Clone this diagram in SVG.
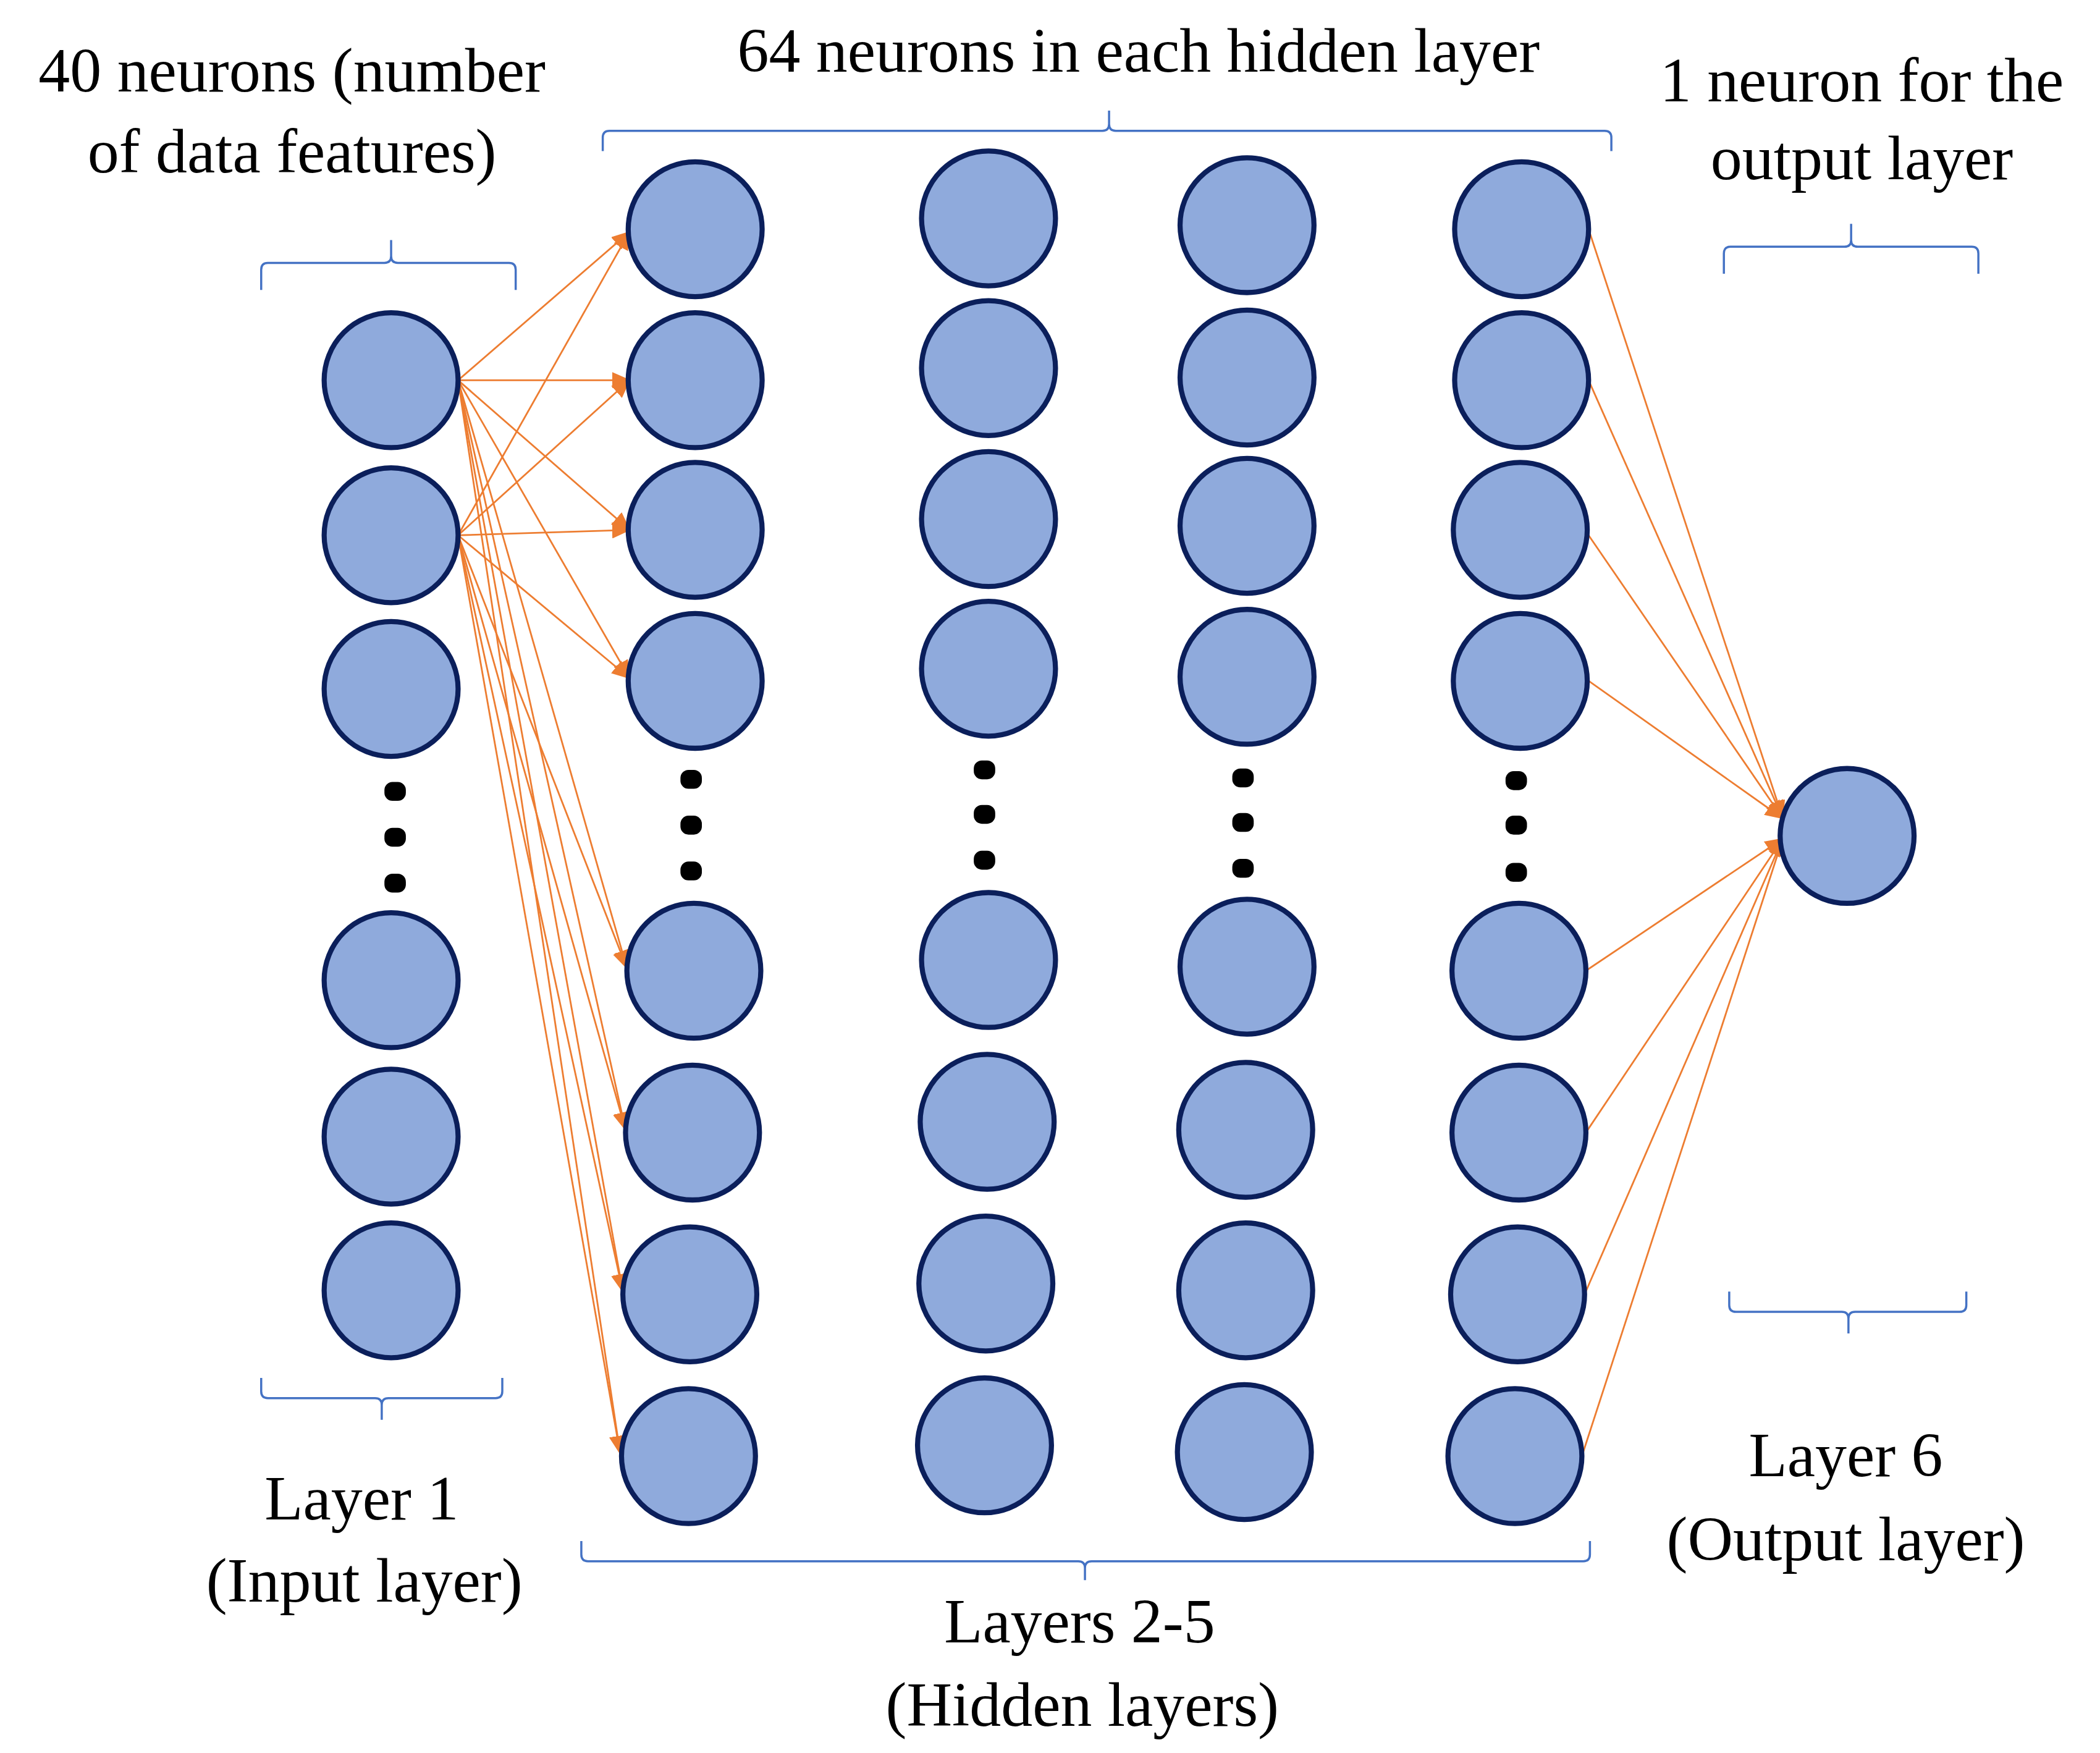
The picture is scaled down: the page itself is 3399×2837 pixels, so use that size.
<svg xmlns="http://www.w3.org/2000/svg" width="3399" height="2837" viewBox="0 0 3399 2837">
<style>
.n{fill:#8FAADC;stroke:#0B1F5B;stroke-width:3.8}
.c{stroke:#ED7D31;stroke-width:1.3;fill:none;marker-end:url(#ah)}
.b{stroke:#4472C4;stroke-width:1.6;fill:none}
.d{fill:#000}
.t{font-family:"Liberation Serif","Times New Roman",serif;font-size:47px;fill:#000;text-anchor:middle}
</style>
<defs>
<marker id="ah" markerUnits="userSpaceOnUse" markerWidth="14" markerHeight="12" refX="13" refY="6" orient="auto"><path d="M0,0 L14,6 L0,12 z" fill="#ED7D31"/></marker>
</defs>
<rect width="3399" height="2837" fill="#fff"/>
<g transform="scale(2.168,2.182)">
<g id="connectors">
<line class="c" x1="342" y1="282" x2="470" y2="172"/>
<line class="c" x1="342" y1="282" x2="470" y2="282"/>
<line class="c" x1="342" y1="282" x2="470" y2="393"/>
<line class="c" x1="342" y1="282" x2="470" y2="503"/>
<line class="c" x1="342" y1="282" x2="468" y2="718"/>
<line class="c" x1="342" y1="282" x2="467" y2="838"/>
<line class="c" x1="342" y1="282" x2="465" y2="958"/>
<line class="c" x1="342" y1="282" x2="463" y2="1078"/>
<line class="c" x1="342" y1="397" x2="470" y2="172"/>
<line class="c" x1="342" y1="397" x2="470" y2="282"/>
<line class="c" x1="342" y1="397" x2="470" y2="393"/>
<line class="c" x1="342" y1="397" x2="470" y2="503"/>
<line class="c" x1="342" y1="397" x2="468" y2="718"/>
<line class="c" x1="342" y1="397" x2="467" y2="838"/>
<line class="c" x1="342" y1="397" x2="465" y2="958"/>
<line class="c" x1="342" y1="397" x2="463" y2="1078"/>
<line class="c" x1="1186" y1="170" x2="1331" y2="607"/>
<line class="c" x1="1186" y1="282" x2="1331" y2="607"/>
<line class="c" x1="1186" y1="397" x2="1331" y2="607"/>
<line class="c" x1="1186" y1="505" x2="1331" y2="607"/>
<line class="c" x1="1184" y1="720" x2="1331" y2="622"/>
<line class="c" x1="1184" y1="840" x2="1331" y2="622"/>
<line class="c" x1="1183" y1="960" x2="1331" y2="622"/>
<line class="c" x1="1181" y1="1080" x2="1331" y2="622"/>
</g>
<g id="input-layer">
<circle class="n" cx="292" cy="282" r="50"/><circle class="n" cx="292" cy="397" r="50"/><circle class="n" cx="292" cy="511" r="50"/>
<circle class="n" cx="292" cy="727" r="50"/><circle class="n" cx="292" cy="843" r="50"/><circle class="n" cx="292" cy="957" r="50"/>
<rect class="d" x="287" y="580" width="16" height="14" rx="6"/><rect class="d" x="287" y="614" width="16" height="14" rx="6"/><rect class="d" x="287" y="648" width="16" height="14" rx="6"/>
</g>
<g id="hidden-1">
<circle class="n" cx="519" cy="170" r="50"/><circle class="n" cx="519" cy="282" r="50"/><circle class="n" cx="519" cy="393" r="50"/><circle class="n" cx="519" cy="505" r="50"/>
<circle class="n" cx="518" cy="720" r="50"/><circle class="n" cx="517" cy="840" r="50"/><circle class="n" cx="515" cy="960" r="50"/><circle class="n" cx="514" cy="1080" r="50"/>
<rect class="d" x="508" y="571" width="16" height="14" rx="6"/><rect class="d" x="508" y="605" width="16" height="14" rx="6"/><rect class="d" x="508" y="639" width="16" height="14" rx="6"/>
</g>
<g id="hidden-2">
<circle class="n" cx="738" cy="162" r="50"/><circle class="n" cx="738" cy="273" r="50"/><circle class="n" cx="738" cy="385" r="50"/><circle class="n" cx="738" cy="496" r="50"/>
<circle class="n" cx="738" cy="712" r="50"/><circle class="n" cx="737" cy="832" r="50"/><circle class="n" cx="736" cy="952" r="50"/><circle class="n" cx="735" cy="1072" r="50"/>
<rect class="d" x="727" y="564" width="16" height="14" rx="6"/><rect class="d" x="727" y="597" width="16" height="14" rx="6"/><rect class="d" x="727" y="631" width="16" height="14" rx="6"/>
</g>
<g id="hidden-3">
<circle class="n" cx="931" cy="167" r="50"/><circle class="n" cx="931" cy="280" r="50"/><circle class="n" cx="931" cy="390" r="50"/><circle class="n" cx="931" cy="502" r="50"/>
<circle class="n" cx="931" cy="717" r="50"/><circle class="n" cx="930" cy="838" r="50"/><circle class="n" cx="930" cy="957" r="50"/><circle class="n" cx="929" cy="1077" r="50"/>
<rect class="d" x="920" y="570" width="16" height="14" rx="6"/><rect class="d" x="920" y="603" width="16" height="14" rx="6"/><rect class="d" x="920" y="637" width="16" height="14" rx="6"/>
</g>
<g id="hidden-4">
<circle class="n" cx="1136" cy="170" r="50"/><circle class="n" cx="1136" cy="282" r="50"/><circle class="n" cx="1135" cy="393" r="50"/><circle class="n" cx="1135" cy="505" r="50"/>
<circle class="n" cx="1134" cy="720" r="50"/><circle class="n" cx="1134" cy="840" r="50"/><circle class="n" cx="1133" cy="960" r="50"/><circle class="n" cx="1131" cy="1080" r="50"/>
<rect class="d" x="1124" y="572" width="16" height="14" rx="6"/><rect class="d" x="1124" y="605" width="16" height="14" rx="6"/><rect class="d" x="1124" y="640" width="16" height="14" rx="6"/>
</g>
<g id="output-layer">
<circle class="n" cx="1379" cy="620" r="50"/>
</g>
<g id="braces">
<path class="b" d="M195,215 V200 Q195,195 200,195 H287 Q292,195 292,190 V178 M292,190 Q292,195 297,195 H380 Q385,195 385,200 V215"/>
<path class="b" d="M450,112 V102 Q450,97 455,97 H823 Q828,97 828,92 V82 M828,92 Q828,97 833,97 H1198 Q1203,97 1203,102 V112"/>
<path class="b" d="M1287,203 V188 Q1287,183 1292,183 H1377 Q1382,183 1382,178 V166 M1382,178 Q1382,183 1387,183 H1472 Q1477,183 1477,188 V203"/>
<path class="b" d="M195,1022 V1032 Q195,1037 200,1037 H280 Q285,1037 285,1042 V1053 M285,1042 Q285,1037 290,1037 H370 Q375,1037 375,1032 V1022"/>
<path class="b" d="M434,1143 V1153 Q434,1158 439,1158 H805 Q810,1158 810,1163 V1172 M810,1163 Q810,1158 815,1158 H1182 Q1187,1158 1187,1153 V1143"/>
<path class="b" d="M1291,958 V968 Q1291,973 1296,973 H1375 Q1380,973 1380,978 V989 M1380,978 Q1380,973 1385,973 H1463 Q1468,973 1468,968 V958"/>
</g>
<g id="labels">
<text class="t" x="218" y="68">40 neurons (number</text>
<text class="t" x="218" y="128">of data features)</text>
<text class="t" x="850" y="53">64 neurons in each hidden layer</text>
<text class="t" x="1390" y="75">1 neuron for the</text>
<text class="t" x="1390" y="133">output layer</text>
<text class="t" x="270" y="1127">Layer 1</text>
<text class="t" x="272" y="1188">(Input layer)</text>
<text class="t" x="806" y="1218">Layers 2-5</text>
<text class="t" x="808" y="1280">(Hidden layers)</text>
<text class="t" x="1378" y="1095">Layer 6</text>
<text class="t" x="1378" y="1157">(Output layer)</text>
</g>
</g>
</svg>
